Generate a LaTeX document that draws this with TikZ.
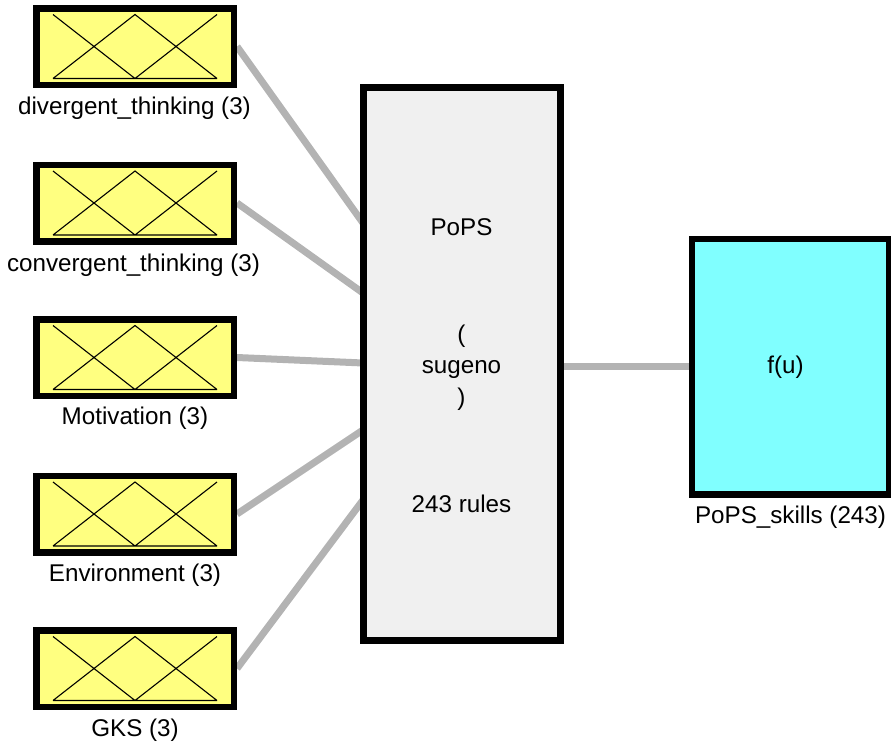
\documentclass[tikz,border=0pt]{standalone}
\usepackage{fontspec}
\setmainfont{Liberation Sans}
\usetikzlibrary{backgrounds}
\definecolor{mfyellow}{HTML}{FFFF80}
\definecolor{rulegray}{HTML}{F0F0F0}
\definecolor{outcyan}{HTML}{80FFFF}
\definecolor{conngray}{HTML}{B3B3B3}
\begin{document}
\begin{tikzpicture}[x=1pt,y=-1pt,
  inbox/.style={draw=black, line width=6.5pt, fill=mfyellow, minimum width=197.5pt, minimum height=76.5pt, inner sep=0pt},
  rulebox/.style={draw=black, line width=6.5pt, fill=rulegray, minimum width=197pt, minimum height=553pt, inner sep=0pt},
  outbox/.style={draw=black, line width=6.5pt, fill=outcyan, minimum width=197pt, minimum height=255.5pt, inner sep=0pt},
  lbl/.style={anchor=base, inner sep=0pt, font=\fontsize{24.2}{29}\selectfont},
  conn/.style={draw=conngray, line width=7pt},
  mf/.style={draw=black, line width=1.1pt}]
\useasboundingbox (0,0) rectangle (891,744);
% input boxes
\node[inbox] (in1) at (135,46.5) {};
\node[inbox] (in2) at (135,203) {};
\node[inbox] (in3) at (135,357.5) {};
\node[inbox] (in4) at (135,514) {};
\node[inbox] (in5) at (135,668.5) {};
\foreach \i in {1,...,5}{
  \draw[mf, shift={(in\i.center)}] (-82,-32) -- (0,32) -- (82,-32)
     (-82,32) -- (0,-32) -- (82,32)
     (-82,32) -- (82,32);
}
\node[lbl] (l1) at (134.5,114) {divergent\_thinking (3)};
\node[lbl] (l2) at (133.5,271) {convergent\_thinking (3)};
\node[lbl] (l3) at (135,424.5) {Motivation (3)};
\node[lbl] (l4) at (135,581) {Environment (3)};
\node[lbl] (l5) at (135,736) {GKS (3)};
% rule box
\node[rulebox] (rules) at (461.75,363.75) {};
\node[lbl] (t1) at (461.5,235.7) {PoPS};
\node[lbl] (t2) at (461.5,342) {(};
\node[lbl] (t3) at (461.5,373) {sugeno};
\node[lbl] (t4) at (461.5,405) {)};
\node[lbl] (t5) at (461.5,512.3) {243 rules};
% output box
\node[outbox] (out) at (790.5,366.5) {};
\node[lbl] (fu) at (785.5,373) {f(u)};
\node[lbl] (lo) at (790.5,523.5) {PoPS\_skills (243)};
% connector end points on the rule box
\coordinate (r1) at (363,223);
\coordinate (r2) at (363,293);
\coordinate (r3) at (363,363);
\coordinate (r4) at (363,430);
\coordinate (r5) at (363,500);
\begin{pgfonlayer}{background}
\draw[conn] (in1.east) -- (r1);
\draw[conn] (in2.east) -- (r2);
\draw[conn] (in3.east) -- (r3);
\draw[conn] (in4.east) -- (r4);
\draw[conn] (in5.east) -- (r5);
\draw[conn] (rules.east |- out.west) -- (out.west);
\end{pgfonlayer}
\end{tikzpicture}
\end{document}
